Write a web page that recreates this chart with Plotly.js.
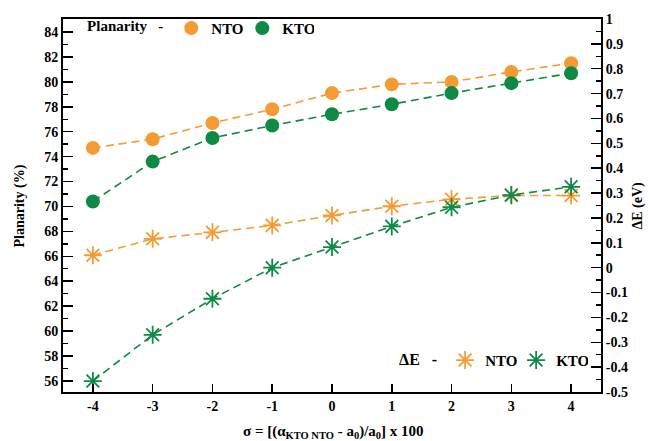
<!DOCTYPE html>
<html>
<head>
<meta charset="utf-8">
<script src="https://cdn.plot.ly/plotly-3.0.1.min.js"></script>
<style>html,body{margin:0;padding:0;background:#fff}#chart{width:650px;height:441px}</style>
</head>
<body>
<div id="chart"></div>
<script>
// ---- data ----
var sigma = [-4, -3, -2, -1, 0, 1, 2, 3, 4];
var planarityNTO = [74.7, 75.4, 76.7, 77.8, 79.1, 79.8, 80.0, 80.8, 81.5];
var planarityKTO = [70.4, 73.6, 75.5, 76.5, 77.4, 78.2, 79.1, 79.9, 80.7];
var dENTO = [0.05, 0.116, 0.142, 0.170, 0.210, 0.247, 0.275, 0.290, 0.290];
var dEKTO = [-0.456, -0.27, -0.125, 0.0, 0.083, 0.166, 0.243, 0.292, 0.325];
var xTickVals = [-4, -3, -2, -1, 0, 1, 2, 3, 4];
var xTickText = ['-4', '-3', '-2', '-1', '0', '1', '2', '3', '4'];
var yTickVals = [56, 58, 60, 62, 64, 66, 68, 70, 72, 74, 76, 78, 80, 82, 84];
var y2TickVals = [-0.5, -0.4, -0.3, -0.2, -0.1, 0, 0.1, 0.2, 0.3, 0.4, 0.5, 0.6, 0.7, 0.8, 0.9, 1];
var y2TickText = ['-0.5', '-0.4', '-0.3', '-0.2', '-0.1', '0', '0.1', '0.2', '0.3', '0.4', '0.5', '0.6', '0.7', '0.8', '0.9', '1'];

var ORANGE = '#F49B33';
var GREEN = '#0F8A46';
var FONT = 'Liberation Serif, Times New Roman, serif';
var bold = function (s) { return {family: FONT, size: s, color: '#000', weight: 'bold'}; };
var DASH = '8px,5px';

function lineTrace(y, color, axis) {
  return {x: sigma, y: y, yaxis: axis, mode: 'lines', type: 'scatter',
    line: {color: color, width: 1.6, dash: DASH}, showlegend: false, hoverinfo: 'skip'};
}
function circleTrace(y, color, name) {
  return {x: sigma, y: y, yaxis: 'y', mode: 'markers', type: 'scatter', name: name,
    marker: {symbol: 'circle', size: 14, color: color}, legend: 'legend'};
}
function starTrace(y, color, name) {
  return {x: sigma, y: y, yaxis: 'y2', mode: 'markers', type: 'scatter', name: name,
    marker: {symbol: 'asterisk-open', size: 15, color: color, line: {color: color, width: 1.8}},
    legend: 'legend2'};
}

var data = [
  lineTrace(planarityNTO, ORANGE, 'y'),
  lineTrace(planarityKTO, GREEN, 'y'),
  circleTrace(planarityNTO, ORANGE, 'NTO'),
  circleTrace(planarityKTO, GREEN, 'KTO'),
  lineTrace(dENTO, ORANGE, 'y2'),
  lineTrace(dEKTO, GREEN, 'y2'),
  starTrace(dENTO, ORANGE, 'NTO'),
  starTrace(dEKTO, GREEN, 'KTO')
];

var layout = {
  width: 650, height: 441,
  margin: {l: 63, r: 49, t: 16, b: 49},
  paper_bgcolor: '#fff', plot_bgcolor: '#fff',
  font: bold(14),
  xaxis: {
    range: [-4.5, 4.5], tickmode: 'array', tickvals: xTickVals, ticktext: xTickText,
    ticks: 'inside', ticklen: 8, tickwidth: 1.5, tickcolor: '#000',
    showline: true, linewidth: 2, linecolor: '#000', mirror: true,
    showgrid: false, zeroline: false, tickfont: bold(14)
  },
  yaxis: {
    range: [55.1, 85.05], tickmode: 'array', tickvals: yTickVals,
    ticks: 'inside', ticklen: 10, tickwidth: 1.5, tickcolor: '#000',
    minor: {dtick: 1, tick0: 0, ticks: 'inside', ticklen: 5, tickwidth: 1.5, tickcolor: '#000', showgrid: false},
    showline: true, linewidth: 2, linecolor: '#000',
    showgrid: false, zeroline: false, tickfont: bold(14)
  },
  yaxis2: {
    overlaying: 'y', side: 'right',
    range: [-0.5, 1], tickmode: 'array', tickvals: y2TickVals, ticktext: y2TickText,
    ticks: 'inside', ticklen: 10, tickwidth: 1.5, tickcolor: '#000',
    minor: {dtick: 0.05, tick0: 0, ticks: 'inside', ticklen: 5, tickwidth: 1.5, tickcolor: '#000', showgrid: false},
    showline: true, linewidth: 2, linecolor: '#000',
    showgrid: false, zeroline: false, tickfont: bold(14)
  },
  legend: {
    orientation: 'h', x: 0.041, y: 0.975, xanchor: 'left', yanchor: 'middle',
    bgcolor: 'rgba(0,0,0,0)', font: bold(15), itemwidth: 30,
    entrywidth: 26, entrywidthmode: 'pixels',
    title: {text: 'Planarity   -', font: bold(15), side: 'left'}
  },
  legend2: {
    orientation: 'h', x: 0.621, y: 0.085, xanchor: 'left', yanchor: 'middle',
    bgcolor: 'rgba(0,0,0,0)', font: bold(15), itemwidth: 30,
    entrywidth: 26, entrywidthmode: 'pixels',
    title: {text: 'ΔE   -', font: bold(16), side: 'left'}
  },
  annotations: [
    {text: 'Planarity (%)', xref: 'paper', yref: 'paper', x: -0.08, y: 0.5,
     textangle: -90, showarrow: false, font: bold(14), xanchor: 'center', yanchor: 'middle'},
    {text: 'ΔE (eV)', xref: 'paper', yref: 'paper', x: 1.067, y: 0.5,
     textangle: -90, showarrow: false, font: bold(14), xanchor: 'center', yanchor: 'middle'},
    {text: 'σ = [(α<sub>KTO NTO</sub> - a<sub>0</sub>)/a<sub>0</sub>] x 100', xref: 'paper', yref: 'paper',
     x: 0.502, y: -0.106, showarrow: false, font: bold(15), xanchor: 'center', yanchor: 'middle'}
  ]
};

Plotly.newPlot('chart', data, layout, {displayModeBar: false, staticPlot: true});
</script>
</body>
</html>
